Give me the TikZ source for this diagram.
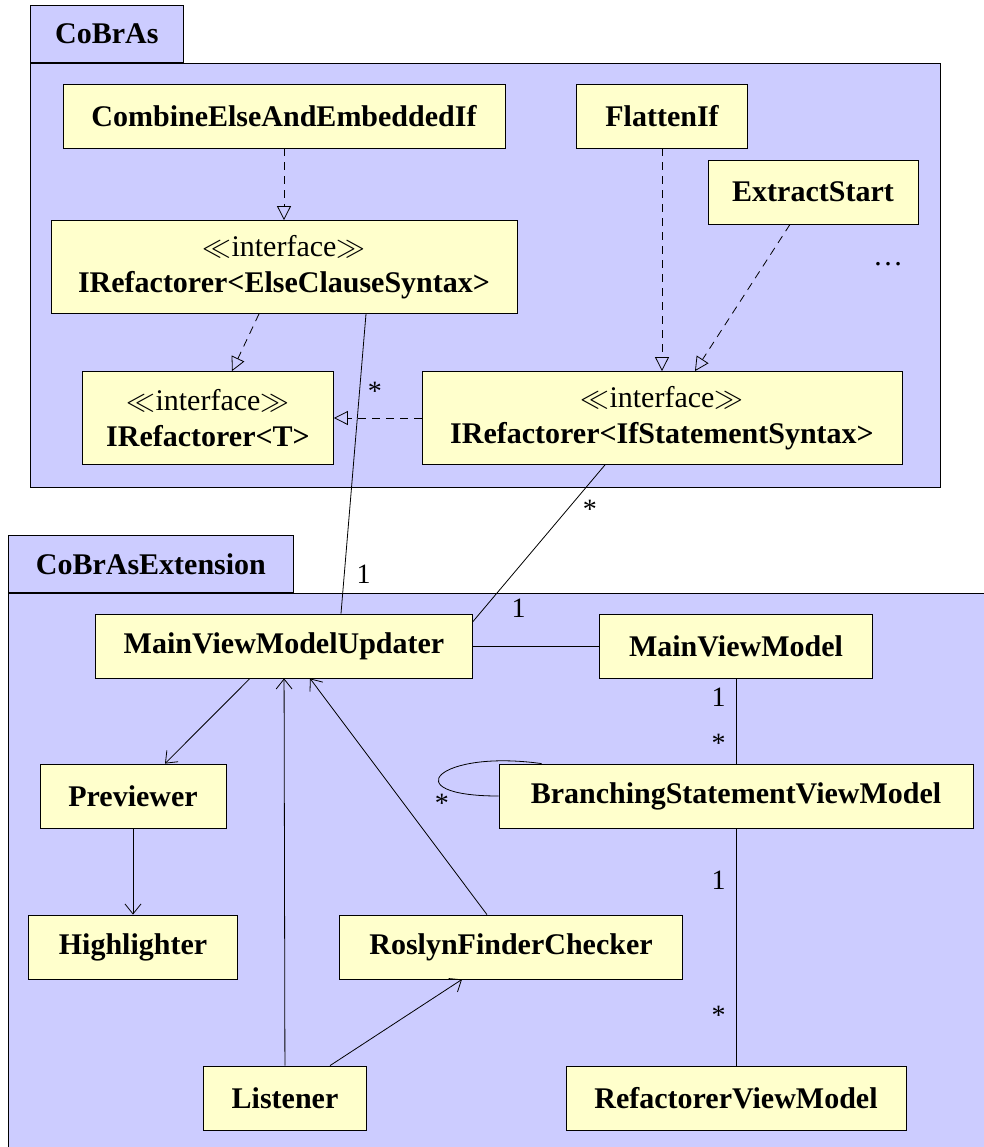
\documentclass[tikz,border=0pt]{standalone}
\usepackage{fontspec}
\setmainfont{Liberation Serif}
\usetikzlibrary{positioning,arrows.meta}

\definecolor{pkgblue}{RGB}{204,204,255}
\definecolor{classyellow}{RGB}{255,255,204}

\begin{document}
\begin{tikzpicture}[x=0.5pt,y=-0.5pt,
  every node/.style={font=\fontsize{15}{18}\selectfont},
  umlclass/.style={rectangle,draw,fill=classyellow,font=\fontsize{15}{18}\selectfont\bfseries,minimum width=#1,minimum height=32pt,align=center,inner sep=2pt,on grid},
  iface/.style={umlclass=#1,minimum height=46.5pt},
  pkgtab/.style={rectangle,draw,fill=pkgblue,font=\fontsize{15}{18}\selectfont\bfseries,minimum width=#1,minimum height=28.5pt,anchor=south west},
  realize/.style={dash pattern=on 4pt off 3pt,-{Triangle[open,length=7pt,width=7pt]}},
  navig/.style={-{Straight Barb[length=5pt,width=8pt]}},
  mult/.style={font=\fontsize{14}{16}\selectfont,inner sep=2pt},
]
\useasboundingbox (0,0) rectangle (984,1147);

% packages
\draw[fill=pkgblue] (30,63) rectangle (940,487);
\node[pkgtab=76.5pt] (cobrastab) at (30,63) {CoBrAs};
\draw[fill=pkgblue] (8,593) rectangle (1000,1170);
\node[pkgtab=142.5pt] (exttab) at (8,593) {CoBrAsExtension};

% CoBrAs
\node[umlclass=221pt] (combine) at (284,116) {CombineElseAndEmbeddedIf};
\node[umlclass=85.5pt] (flatten) at (662,116) {FlattenIf};
\node[umlclass=105pt] (extract) at (813,192) {ExtractStart};
\node (more) at (888,264) {\dots};
\node[iface=233pt,below=75.5pt of combine] (elseclause) {{\mdseries$\ll$interface$\gg$}\\IRefactorer<ElseClauseSyntax>};
\node[iface=125.5pt] (generic) at (208,418) {{\mdseries$\ll$interface$\gg$}\\IRefactorer<T>};
\node[iface=240pt,below=151pt of flatten] (ifstmt) {{\mdseries$\ll$interface$\gg$}\\IRefactorer<IfStatementSyntax>};

\draw[realize] (combine) -- (elseclause);
\draw[realize] ([xshift=-12.5pt]elseclause.south) -- ([xshift=12pt]generic.north);
\draw[realize] (flatten) -- (ifstmt);
\draw[realize] ([xshift=-11.5pt]extract.south) -- ([xshift=16.5pt]ifstmt.north);
\draw[realize] (ifstmt) -- (generic);

% CoBrAsExtension
\node[umlclass=188.5pt] (updater) at (284,646) {MainViewModelUpdater};
\node[umlclass=136.5pt,right=226pt of updater] (mainvm) {MainViewModel};
\node[umlclass=237pt,below=75pt of mainvm] (branching) {BranchingStatementViewModel};
\node[umlclass=170pt,below=151pt of branching] (refvm) {RefactorerViewModel};
\node[umlclass=93pt] (previewer) at (133,796) {Previewer};
\node[umlclass=104.5pt,below=75.5pt of previewer] (highlighter) {Highlighter};
\node[umlclass=171.5pt] (roslyn) at (511,947) {RoslynFinderChecker};
\node[umlclass=81.5pt] (listener) at (285,1098) {Listener};

\draw ([xshift=41pt]elseclause.south) -- node[mult,pos=0.26,right=2pt] (elsestar) {*} node[mult,pos=0.87,right=4pt] (elseone) {1} ([xshift=28.5pt]updater.north);
\draw ([xshift=-28.5pt]ifstmt.south) -- node[mult,pos=0.2,below right] (ifstar) {*} node[mult,pos=0.8,below right=2pt and 4pt] (ifone) {1} ([yshift=-4pt]updater.north east);
\draw (updater) -- (mainvm);
\draw (mainvm) -- node[mult,pos=0.22,left=3pt] (mainone) {1} node[mult,pos=0.76,left=3pt] (mainstar) {*} (branching);
\draw (branching) -- node[mult,pos=0.22,left=3pt] (branchone) {1} node[mult,pos=0.79,left=3pt] (branchstar) {*} (refvm);
\draw (branching.west) to[out=180,in=172,looseness=5] node[mult,pos=0.3,below=2pt] (loopstar) {*} ([xshift=21.5pt]branching.north west);

\draw[navig] ([xshift=-17pt]updater.south) -- ([xshift=16pt]previewer.north);
\draw[navig] (previewer) -- (highlighter);
\draw[navig] (listener) -- (updater);
\draw[navig] ([xshift=-12pt]roslyn.north) -- ([xshift=13pt]updater.south);
\draw[navig] ([xshift=22.5pt]listener.north) -- ([xshift=-24.5pt]roslyn.south);
\end{tikzpicture}
\end{document}
